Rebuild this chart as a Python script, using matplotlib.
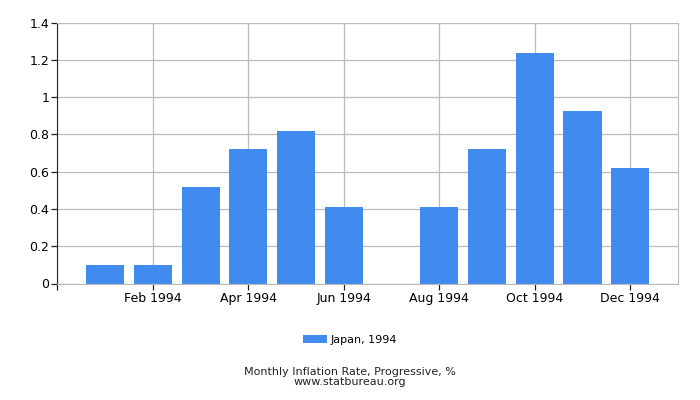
import matplotlib
matplotlib.use("Agg")
import matplotlib.pyplot as plt
import numpy as np

months = ["Jan 1994", "Feb 1994", "Mar 1994", "Apr 1994", "May 1994", "Jun 1994",
          "Jul 1994", "Aug 1994", "Sep 1994", "Oct 1994", "Nov 1994", "Dec 1994"]
values = [0.1, 0.1, 0.52, 0.72, 0.82, 0.41, 0.0, 0.41, 0.72, 1.235, 0.925, 0.62]
yticks = [0, 0.2, 0.4, 0.6, 0.8, 1, 1.2, 1.4]
ytick_labels = ["0", "0.2", "0.4", "0.6", "0.8", "1", "1.2", "1.4"]

plt.rcParams["font.family"] = "DejaVu Sans"
fig = plt.figure(figsize=(7, 4), dpi=100)
ax = fig.add_axes([0.082, 0.29125, 0.8866, 0.6525])

x = np.arange(len(months))
ax.bar(x, values, width=0.8, color="#418BEE", label="Japan, 1994", zorder=2)

ax.set_xlim(-1, 12)
ax.set_ylim(0, 1.4)
ax.set_yticks(yticks)
ax.set_yticklabels(ytick_labels, fontsize=9)
ax.set_xticks([-1] + list(x[1::2]))
ax.set_xticklabels([""] + months[1::2], fontsize=9)
ax.grid(True, color="#bbbbbb", linewidth=0.9, zorder=0)
ax.tick_params(axis="both", length=4, width=0.9, color="#222222", pad=2)
for side in ["top", "right", "bottom"]:
    ax.spines[side].set_color("#bbbbbb")
ax.spines["left"].set_color("#222222")

fig.legend(loc="center", bbox_to_anchor=(0.5, 0.15), frameon=False, fontsize=8,
           handlelength=2.2, handleheight=0.8, handletextpad=0.3)
fig.text(0.5, 0.071, "Monthly Inflation Rate, Progressive, %", ha="center", va="center", fontsize=8, color="#222222")
fig.text(0.5, 0.045, "www.statbureau.org", ha="center", va="center", fontsize=8, color="#222222")

fig.savefig("out.png", dpi=100)
